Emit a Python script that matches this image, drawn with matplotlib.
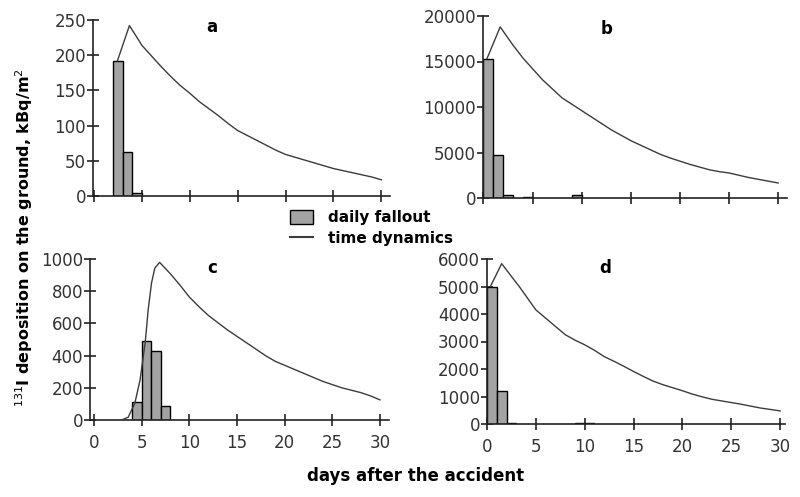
import matplotlib
matplotlib.use("Agg")
import matplotlib.pyplot as plt
from matplotlib.patches import Patch
from matplotlib.lines import Line2D

plt.rcParams['font.family'] = ['DejaVu Sans']

# ---- data: daily fallout (bar left edge = day) ----
a_bar_days = [2, 3, 4]
a_bar_vals = [192, 62, 4]
b_bar_days = [0, 1, 2, 4, 9]
b_bar_vals = [15300, 4700, 300, 120, 350]
c_bar_days = [4, 5, 6, 7]
c_bar_vals = [110, 490, 430, 85]
d_bar_days = [0, 1, 2, 9, 10]
d_bar_vals = [4980, 1200, 50, 40, 30]

# ---- data: time dynamics curves ----
a_line_days = [2.45, 3.7, 4.5, 5, 6, 7, 8, 9, 10, 11, 12, 13, 14, 15, 16, 17, 18, 19, 20,
               21, 22, 23, 24, 25, 26, 27, 28, 29, 30]
a_line_vals = [192, 242, 225, 214, 199, 184, 170, 157, 146, 134, 124, 114, 103, 93, 86, 79,
               72, 65, 59, 55, 51, 47, 43, 39, 36, 33, 30, 27, 23]
b_line_days = [0.35, 1.7, 3, 4, 5, 6, 7, 8, 9, 10, 11, 12, 13, 14, 15, 16, 17, 18, 19, 20,
               21, 22, 23, 24, 25, 26, 27, 28, 29, 30]
b_line_vals = [15300, 18800, 16800, 15400, 14200, 13000, 12000, 11000, 10300, 9600, 8900,
               8200, 7500, 6900, 6300, 5800, 5300, 4800, 4400, 4050, 3700, 3400, 3100, 2900,
               2750, 2500, 2250, 2050, 1850, 1650]
c_line_days = [2.9, 3.6, 4.3, 4.85, 5.4, 5.7, 6.05, 6.4, 6.9, 8, 9, 10, 11, 12, 13, 14, 15,
               16, 17, 18, 19, 20, 21, 22, 23, 24, 25, 26, 27, 28, 29, 30]
c_line_vals = [0, 17, 104, 249, 487, 685, 851, 944, 979, 910, 840, 765, 705, 650, 605, 560,
               520, 480, 440, 400, 365, 340, 315, 290, 265, 240, 220, 200, 185, 170, 150, 125]
d_line_days = [0.35, 1.5, 3.4, 5, 6, 7, 8, 9, 10, 11, 12, 13, 14, 15, 16, 17, 18, 19, 20,
               21, 22, 23, 24, 25, 26, 27, 28, 29, 30]
d_line_vals = [5000, 5830, 4950, 4150, 3850, 3550, 3250, 3050, 2880, 2680, 2450, 2280, 2100,
               1910, 1730, 1560, 1430, 1320, 1210, 1090, 990, 900, 840, 780, 720, 650, 580,
               530, 475]

x_ticks = [0, 5, 10, 15, 20, 25, 30]
a_yticks = [0, 50, 100, 150, 200, 250]
b_yticks = [0, 5000, 10000, 15000, 20000]
c_yticks = [0, 200, 400, 600, 800, 1000]
d_yticks = [0, 1000, 2000, 3000, 4000, 5000, 6000]

W, H = 800, 497
fig = plt.figure(figsize=(8, 4.97), dpi=100)


def make_ax(l, r, t, b):
    return fig.add_axes([l / W, 1 - b / H, (r - l) / W, (b - t) / H])


bar_color = '#a3a3a3'
line_color = '#3c3c3c'
tick_color = '#333333'

panels = [
    ('a', make_ax(93, 390, 20, 196), a_bar_days, a_bar_vals, a_line_days, a_line_vals,
     a_yticks, (-0.1, 30.9), False),
    ('b', make_ax(483, 787, 16, 198), b_bar_days, b_bar_vals, b_line_days, b_line_vals,
     b_yticks, (-0.05, 30.9), False),
    ('c', make_ax(90, 389, 259, 420), c_bar_days, c_bar_vals, c_line_days, c_line_vals,
     c_yticks, (-0.4, 30.95), True),
    ('d', make_ax(487, 785, 259, 424), d_bar_days, d_bar_vals, d_line_days, d_line_vals,
     d_yticks, (0.0, 30.5), True),
]

for letter, ax, bd, bv, ld, lv, yt, xl, show_x in panels:
    ax.bar(bd, bv, width=1.0, align='edge', color=bar_color, edgecolor='black',
           linewidth=1.0, zorder=2)
    ax.plot(ld, lv, color=line_color, linewidth=1.0, zorder=3)
    ax.set_xlim(*xl)
    ax.set_ylim(0, yt[-1])
    ax.set_xticks(x_ticks)
    ax.set_yticks(yt)
    ax.set_yticklabels([str(v) for v in yt])
    if not show_x:
        ax.set_xticklabels([])
    for s in ['top', 'right']:
        ax.spines[s].set_visible(False)
    for s in ['left', 'bottom']:
        ax.spines[s].set_linewidth(1.2)
        ax.spines[s].set_color('#222222')
    ax.tick_params(direction='inout', length=8, width=1.2, color='#222222',
                   labelsize=12, labelcolor=tick_color, pad=1)
    ax.tick_params(axis='x', pad=6)
    ax.patch.set_alpha(0)

fig.text(212 / W, 1 - 27 / H, 'a', fontsize=12, fontweight='bold', ha='center', va='center')
fig.text(607 / W, 1 - 29 / H, 'b', fontsize=12, fontweight='bold', ha='center', va='center')
fig.text(212 / W, 1 - 268 / H, 'c', fontsize=12, fontweight='bold', ha='center', va='center')
fig.text(605 / W, 1 - 268 / H, 'd', fontsize=12, fontweight='bold', ha='center', va='center')

handles = [Patch(facecolor=bar_color, edgecolor='black', linewidth=1.0),
           Line2D([0], [0], color=line_color, linewidth=1.5)]
fig.legend(handles, ['daily fallout', 'time dynamics'], loc='center left',
           bbox_to_anchor=(282 / W, 1 - 228 / H), frameon=False,
           prop={'weight': 'bold', 'size': 11}, handlelength=1.5, handleheight=1.0,
           handletextpad=1.0, labelspacing=0.35, borderpad=0)

fig.text(24 / W, 1 - 238 / H, '$^{131}$I deposition on the ground, kBq/m$^{2}$',
         rotation=90, ha='center', va='center', fontsize=11.5, fontweight='bold')
fig.text(416 / W, 1 - 476 / H, 'days after the accident', ha='center', va='center',
         fontsize=12, fontweight='bold')

fig.savefig('out.png', dpi=100)
